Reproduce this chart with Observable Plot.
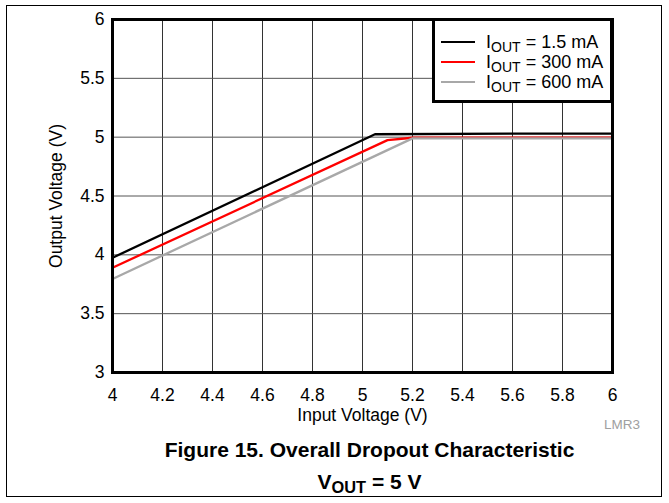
<!DOCTYPE html>
<html>
<head>
<meta charset="utf-8">
<script src="https://cdn.jsdelivr.net/npm/d3@7"></script>
<script src="https://cdn.jsdelivr.net/npm/@observablehq/plot@0.6"></script>
<style>
  html, body { margin: 0; padding: 0; background: #fff; }
  body { width: 669px; height: 503px; position: relative; overflow: hidden; font-family: "Liberation Sans", Arial, sans-serif; }
  #border { position: absolute; left: 6px; top: 5px; width: 656px; height: 492px; border: 1px solid #000; box-sizing: border-box; }
  #chart { position: absolute; left: 0; top: 0; }
  #legend { position: absolute; left: 432px; top: 18px; width: 181px; height: 85px; border: 3px solid #000; background: #fff; box-sizing: border-box; }
  .entry { position: absolute; left: 6px; height: 20px; font-size: 18px; line-height: 20px; white-space: nowrap; }
  .swatch { position: absolute; left: 0; top: 9px; width: 34px; height: 0; border-top: 2.5px solid; }
  .etext { position: absolute; left: 45px; top: 0; }
  sub { font-size: 0.78em; vertical-align: -0.25em; line-height: 0; }
  .cap { position: absolute; left: 0; width: 739px; text-align: center; font-weight: bold; font-size: 21px; line-height: 21px; white-space: nowrap; }
  #code { position: absolute; left: 604px; top: 418px; font-size: 13.5px; line-height: 13.5px; color: #a0a0a0; }
</style>
</head>
<body>
<div id="border"></div>
<div id="chart"></div>
<div id="legend"></div>
<div id="code">LMR3</div>
<div class="cap" style="top:439px">Figure 15. Overall Dropout Characteristic</div>
<div class="cap" style="top:471px">V<sub>OUT</sub> = 5 V</div>
<script>
// ---- data ----
const seriesNames = ["1.5 mA", "300 mA", "600 mA"];
const seriesColors = ["#000000", "#ff0000", "#a8a8a8"];

const vinBlack = [4.0, 5.05, 5.6, 6.0];
const voutBlack = [3.975, 5.025, 5.03, 5.03];

const vinRed = [4.0, 5.1, 5.2, 6.0];
const voutRed = [3.89, 4.975, 4.995, 4.995];

const vinGrey = [4.0, 5.2, 6.0];
const voutGrey = [3.795, 4.99, 4.99];

const xTicks = [4, 4.2, 4.4, 4.6, 4.8, 5, 5.2, 5.4, 5.6, 5.8, 6];
const yTicks = [3, 3.5, 4, 4.5, 5, 5.5, 6];
const xTickLabels = ["4", "4.2", "4.4", "4.6", "4.8", "5", "5.2", "5.4", "5.6", "5.8", "6"];
const yTickLabels = ["3", "3.5", "4", "4.5", "5", "5.5", "6"];

// ---- build table ----
const rows = [];
[[vinBlack, voutBlack], [vinRed, voutRed], [vinGrey, voutGrey]].forEach(([xs, ys], i) => {
  xs.forEach((x, j) => rows.push({series: seriesNames[i], vin: x, vout: ys[j]}));
});

const chart = Plot.plot({
  width: 669,
  height: 430,
  marginTop: 19,
  marginRight: 57,
  marginBottom: 58,
  marginLeft: 112,
  style: {fontFamily: "'Liberation Sans', Arial, sans-serif", fontSize: "17px", color: "#000", background: "transparent"},
  x: {domain: [4, 6]},
  y: {domain: [3, 6]},
  color: {domain: seriesNames, range: seriesColors},
  marks: [
    Plot.gridX(xTicks, {stroke: "#333", strokeOpacity: 1, strokeWidth: 1}),
    Plot.gridY(yTicks, {stroke: "#555", strokeOpacity: 1, strokeWidth: 1}),
    Plot.axisX(xTicks, {tickSize: 0, tickPadding: 16, tickFormat: (d, i) => xTickLabels[i], label: "Input Voltage (V)", labelAnchor: "center", labelOffset: 48, labelArrow: "none", fontSize: 17.5}),
    Plot.axisY(yTicks, {tickSize: 0, tickPadding: 8, tickFormat: (d, i) => yTickLabels[i], label: "Output Voltage (V)", labelAnchor: "center", labelOffset: 63, labelArrow: "none", fontSize: 17.5}),
    Plot.line(rows, {x: "vin", y: "vout", z: "series", stroke: "series", strokeWidth: 2.3, strokeLinejoin: "miter", curve: "linear"}),
    Plot.frame({stroke: "#000", strokeWidth: 3})
  ]
});
document.getElementById("chart").appendChild(chart);

// ---- legend ----
const legend = document.getElementById("legend");
seriesNames.forEach((name, i) => {
  const e = document.createElement("div");
  e.className = "entry";
  e.style.top = (11 + i * 20) + "px";
  e.innerHTML = `<span class="swatch" style="border-color:${seriesColors[i]}"></span><span class="etext">I<sub>OUT</sub> = ${name}</span>`;
  legend.appendChild(e);
});
</script>
</body>
</html>
